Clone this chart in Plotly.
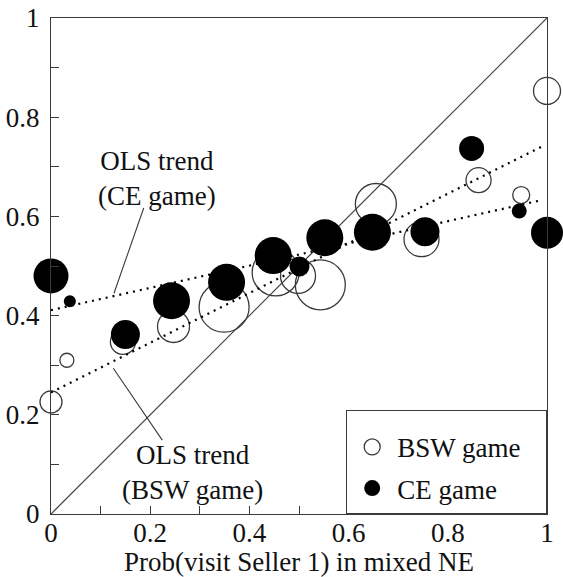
import plotly.graph_objects as go

# ---- data ----
bsw_x = [0.0, 0.032, 0.145, 0.247, 0.349, 0.453, 0.498, 0.543, 0.655, 0.747, 0.862, 0.948, 1.0]
bsw_y = [0.226, 0.310, 0.347, 0.378, 0.417, 0.487, 0.480, 0.462, 0.625, 0.554, 0.673, 0.643, 0.853]
bsw_size = [22, 14, 25, 32, 50, 47, 35, 50, 41, 35, 25, 17, 27]

ce_x = [0.0, 0.038, 0.150, 0.243, 0.354, 0.448, 0.501, 0.552, 0.648, 0.754, 0.848, 0.944, 1.0]
ce_y = [0.480, 0.429, 0.362, 0.430, 0.467, 0.521, 0.499, 0.557, 0.568, 0.569, 0.737, 0.611, 0.567]
ce_size = [35, 12, 29, 37, 37, 37, 20, 37, 37, 29, 25, 15, 32]

trend_x = [0.0, 0.99]
trend_bsw = [0.245, 0.741]
trend_ce = [0.411, 0.633]

diag = [0.0, 1.0]

tick_vals = [0, 0.1, 0.2, 0.3, 0.4, 0.5, 0.6, 0.7, 0.8, 0.9, 1.0]
tick_text = ["0", "", "0.2", "", "0.4", "", "0.6", "", "0.8", "", "1"]

FONT = "Liberation Serif"
FS = 27
INK = "#3a3a3a"
PAD = "\u00a0\u00a0\u00a0"  # right padding inside legend box

fig = go.Figure()

fig.add_trace(go.Scatter(x=diag, y=diag, mode="lines", showlegend=False,
                         line=dict(color=INK, width=1.2), hoverinfo="skip"))

fig.add_trace(go.Scatter(x=bsw_x, y=bsw_y, mode="markers", name="BSW game" + PAD,
                         legendgroup="bsw",
                         marker=dict(symbol="circle-open", size=bsw_size, color=INK, opacity=1,
                                     line=dict(width=1.3, color=INK)),
                         cliponaxis=False))

fig.add_trace(go.Scatter(x=trend_x, y=trend_bsw, mode="lines", showlegend=False,
                         line=dict(color="black", width=2.2, dash="2px,5px"), hoverinfo="skip"))
fig.add_trace(go.Scatter(x=trend_x, y=trend_ce, mode="lines", showlegend=False,
                         line=dict(color="black", width=2.2, dash="2px,5px"), hoverinfo="skip"))

fig.add_trace(go.Scatter(x=ce_x, y=ce_y, mode="markers", name="CE game" + PAD,
                         legendgroup="ce",
                         marker=dict(symbol="circle", size=ce_size, color="black", opacity=1,
                                     line=dict(width=0)),
                         cliponaxis=False))

axis_common = dict(range=[0, 1], showgrid=False, zeroline=False, showline=True, mirror=True,
                   linecolor=INK, linewidth=1.3, ticks="inside", ticklen=8, tickwidth=1.2,
                   tickcolor=INK, tickvals=tick_vals, ticktext=tick_text, automargin=False,
                   tickfont=dict(family=FONT, size=FS, color="#111"))

fig.update_xaxes(**axis_common, ticklabelstandoff=-6,
                 title=dict(text="Prob(visit Seller 1) in mixed NE",
                            font=dict(family=FONT, size=FS, color="#111"), standoff=0))
fig.update_yaxes(**axis_common, ticklabelstandoff=5)

ann_font = dict(family=FONT, size=FS, color="#111")
fig.add_annotation(x=0.2137, y=0.677, xref="x", yref="y", text="OLS trend<br>(CE game)",
                   showarrow=False, font=ann_font)
fig.add_annotation(x=0.2860, y=0.083, xref="x", yref="y", text="OLS trend<br>(BSW game)",
                   showarrow=False, font=ann_font)
# pointer lines
fig.add_annotation(x=0.127, y=0.445, ax=0.188, ay=0.620, xref="x", yref="y",
                   axref="x", ayref="y", text="", showarrow=True, arrowhead=0,
                   arrowwidth=1.1, arrowcolor=INK, standoff=0, startstandoff=0)
fig.add_annotation(x=0.1256, y=0.2938, ax=0.2264, ay=0.1458, xref="x", yref="y",
                   axref="x", ayref="y", text="", showarrow=True, arrowhead=0,
                   arrowwidth=1.1, arrowcolor=INK, standoff=0, startstandoff=0)

fig.update_layout(
    width=563, height=577,
    margin=dict(l=51, r=16, t=18, b=63),
    paper_bgcolor="white", plot_bgcolor="white",
    legend=dict(x=1, y=0, xanchor="right", yanchor="bottom",
                bordercolor=INK, borderwidth=1.2, bgcolor="white",
                font=dict(family=FONT, size=FS, color="#111"),
                title=dict(text="\u00a0", font=dict(size=9)),
                traceorder="grouped", itemwidth=40, tracegroupgap=3),
)

fig.write_html("out.html")
